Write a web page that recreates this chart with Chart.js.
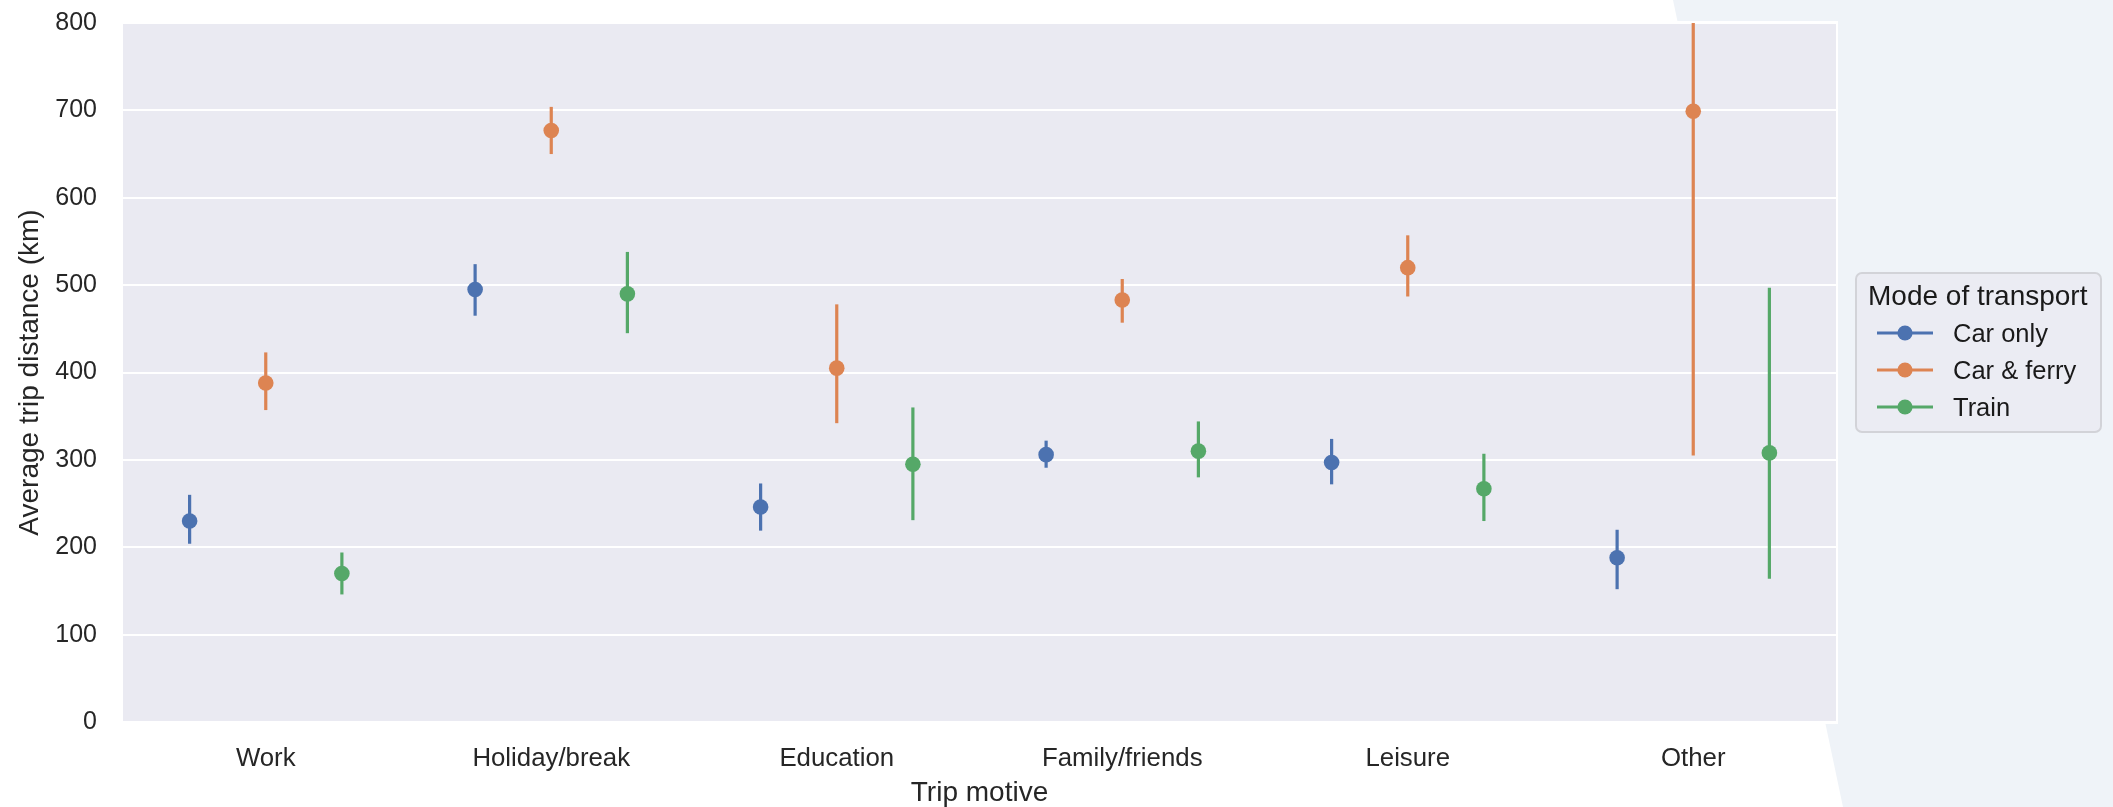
<!DOCTYPE html>
<html>
<head>
<meta charset="utf-8">
<title>Average trip distance by trip motive</title>
<script src="https://cdn.jsdelivr.net/npm/chart.js@4.4.1/dist/chart.umd.min.js"></script>
<style>
  html, body { margin: 0; padding: 0; background: #ffffff; }
  #wrap { position: relative; width: 2113px; height: 807px; overflow: hidden; }
  #side { position: absolute; left: 0; top: 0; width: 2113px; height: 807px; background: #EFF3F8;
          clip-path: polygon(1673px 0, 2113px 0, 2113px 807px, 1843px 807px); }
  #chart { position: absolute; left: 0; top: 0; }
</style>
</head>
<body>
<div id="wrap">
  <div id="side"></div>
  <canvas id="chart" width="2113" height="807"></canvas>
</div>
<script>
// Trip motives on the x axis
const categories = ['Work', 'Holiday/break', 'Education', 'Family/friends', 'Leisure', 'Other'];
const seriesNames = ['Car only', 'Car & ferry', 'Train'];

// Mean trip distance (km) with lower / upper confidence bounds
const carOnlyMean = [230, 495, 246, 306, 297, 188];
const carOnlyLow  = [204, 465, 219, 291, 272, 152];
const carOnlyHigh = [260, 524, 273, 322, 324, 220];

const carFerryMean = [388, 677, 405, 483, 520, 699];
const carFerryLow  = [357, 650, 342, 457, 487, 305];
const carFerryHigh = [423, 704, 478, 507, 557, 1090];

const trainMean = [170, 490, 295, 310, 267, 308];
const trainLow  = [146, 445, 231, 280, 230, 164];
const trainHigh = [194, 538, 360, 344, 307, 497];

const yTicks = [0, 100, 200, 300, 400, 500, 600, 700, 800];

const colors = ['#4C72B0', '#DD8452', '#55A868'];
const means = [carOnlyMean, carFerryMean, trainMean];
const lows = [carOnlyLow, carFerryLow, trainLow];
const highs = [carOnlyHigh, carFerryHigh, trainHigh];
const dodge = 0.8 / 3;

const FONT = "'Liberation Sans', Arial, Helvetica, sans-serif";
const TEXT = '#262626';
Chart.defaults.font.family = FONT;
Chart.defaults.color = TEXT;

const datasets = seriesNames.map((name, s) => ({
  label: name,
  data: means[s].map((v, i) => ({ x: i + (s - 1) * dodge, y: v })),
  backgroundColor: colors[s],
  borderColor: colors[s],
  pointRadius: 7.8,
  pointHoverRadius: 7.8,
  borderWidth: 0,
  showLine: false
}));

// Axes background and white frame
const plotBackground = {
  id: 'plotBackground',
  beforeDraw(chart) {
    const { ctx, chartArea: a } = chart;
    ctx.save();
    ctx.fillStyle = '#EAEAF2';
    ctx.fillRect(a.left, a.top, a.right - a.left, a.bottom - a.top);
    ctx.restore();
  },
  beforeDatasetsDraw(chart) {
    const { ctx, chartArea: a } = chart;
    ctx.save();
    ctx.strokeStyle = '#FFFFFF';
    ctx.lineWidth = 2;
    ctx.strokeRect(a.left - 1, a.top - 1, a.right - a.left + 2, a.bottom - a.top + 2);
    ctx.restore();
  }
};

// Vertical confidence-interval lines under each point
const errorBars = {
  id: 'errorBars',
  beforeDatasetsDraw(chart) {
    const { ctx, chartArea: a, scales: { x, y } } = chart;
    ctx.save();
    ctx.beginPath();
    ctx.rect(a.left, a.top, a.right - a.left, a.bottom - a.top);
    ctx.clip();
    chart.data.datasets.forEach((ds, s) => {
      ctx.strokeStyle = colors[s];
      ctx.lineWidth = 3.2;
      ctx.lineCap = 'butt';
      ds.data.forEach((p, i) => {
        const px = x.getPixelForValue(p.x);
        ctx.beginPath();
        ctx.moveTo(px, y.getPixelForValue(lows[s][i]));
        ctx.lineTo(px, y.getPixelForValue(highs[s][i]));
        ctx.stroke();
      });
    });
    ctx.restore();
  }
};

// Boxed legend with title, line + marker swatches
const boxLegend = {
  id: 'boxLegend',
  afterDraw(chart) {
    const { ctx, chartArea: a } = chart;
    const bx = a.right + 20, by = 273, bw = 245, bh = 159;
    ctx.save();
    ctx.beginPath();
    ctx.roundRect(bx, by, bw, bh, 6);
    ctx.fillStyle = 'rgba(234,234,242,0.85)';
    ctx.fill();
    ctx.strokeStyle = '#D2D3D8';
    ctx.lineWidth = 2;
    ctx.stroke();

    ctx.fillStyle = '#1a1a1a';
    ctx.textBaseline = 'alphabetic';
    ctx.textAlign = 'left';
    ctx.font = `28px ${FONT}`;
    ctx.fillText('Mode of transport', bx + 12, by + 32);

    ctx.font = `25.5px ${FONT}`;
    seriesNames.forEach((name, s) => {
      const cy = by + 60 + s * 37;
      ctx.strokeStyle = colors[s];
      ctx.lineWidth = 3;
      ctx.beginPath();
      ctx.moveTo(bx + 21, cy);
      ctx.lineTo(bx + 77, cy);
      ctx.stroke();
      ctx.fillStyle = colors[s];
      ctx.beginPath();
      ctx.arc(bx + 49, cy, 7.6, 0, Math.PI * 2);
      ctx.fill();
      ctx.fillStyle = '#1a1a1a';
      ctx.fillText(name, bx + 97, cy + 9);
    });
    ctx.restore();
  }
};

new Chart(document.getElementById('chart'), {
  type: 'scatter',
  data: { datasets },
  plugins: [plotBackground, errorBars, boxLegend],
  options: {
    responsive: false,
    animation: false,
    devicePixelRatio: 1,
    layout: { autoPadding: false, padding: { left: 0, top: 23, right: 277, bottom: 0 } },
    plugins: { legend: { display: false }, tooltip: { enabled: false } },
    scales: {
      x: {
        type: 'linear',
        min: -0.5,
        max: categories.length - 0.5,
        afterBuildTicks(scale) { scale.ticks = categories.map((_, i) => ({ value: i })); },
        afterFit(scale) {
          scale.height = 85;
          scale.paddingLeft = 0; scale.paddingRight = 0;
        },
        grid: { display: false },
        border: { display: false },
        ticks: {
          padding: 13,
          color: TEXT,
          font: { size: 25.8 },
          maxRotation: 0,
          autoSkip: false,
          callback: (v) => categories[Math.round(v)]
        },
        title: {
          display: true,
          text: 'Trip motive',
          color: TEXT,
          font: { size: 28 },
          padding: { top: 0, bottom: -3 }
        }
      },
      y: {
        min: 0,
        max: 800,
        afterBuildTicks(scale) { scale.ticks = yTicks.map(v => ({ value: v })); },
        afterFit(scale) {
          scale.width = 123;
          scale.paddingTop = 0; scale.paddingBottom = 0;
        },
        grid: { color: '#FFFFFF', lineWidth: 2, drawTicks: false },
        border: { display: false },
        ticks: { padding: 26, color: TEXT, font: { size: 25 } },
        title: {
          display: true,
          text: 'Average trip distance (km)',
          color: TEXT,
          font: { size: 28 },
          padding: { top: 13, bottom: 0 }
        }
      }
    }
  }
});
</script>
</body>
</html>
